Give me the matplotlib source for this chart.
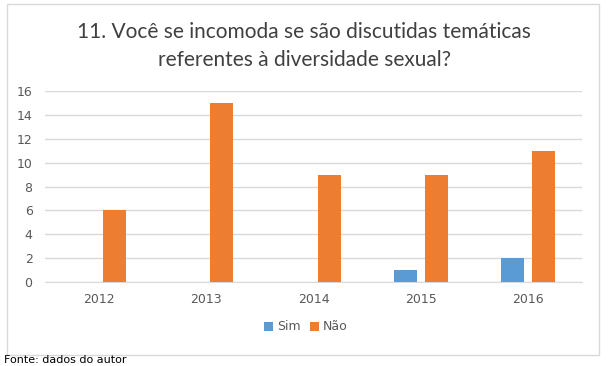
import matplotlib
matplotlib.use("Agg")
import matplotlib.pyplot as plt
import numpy as np
from matplotlib.patches import Rectangle

categories = ["2012", "2013", "2014", "2015", "2016"]
sim = [0, 0, 0, 1, 2]
nao = [6, 15, 9, 9, 11]
yticks = [0, 2, 4, 6, 8, 10, 12, 14, 16]
title = "11. Você se incomoda se são discutidas temáticas\nreferentes à diversidade sexual?"

W, H = 609, 366
fig = plt.figure(figsize=(W/100, H/100), dpi=100)
fig.patch.set_facecolor("white")

# chart border
fig.patches.append(Rectangle((7/W, 1-355/H), (599-7)/W, (355-4)/H, transform=fig.transFigure,
                             fill=False, edgecolor="#D9D9D9", linewidth=1.0))

ax = fig.add_axes([45/W, 1-282/H, (582-45)/W, (282-91)/H])
x = np.arange(len(categories))
bw = 0.215
off = 0.145
ax.bar(x - off, sim, bw, color="#5B9BD5", label="Sim", zorder=3)
ax.bar(x + off, nao, bw, color="#ED7D31", label="Não", zorder=3)
ax.set_xlim(-0.5, len(categories) - 0.5)
ax.set_ylim(0, 16)
ax.set_yticks(yticks)
ax.set_xticks(x)
ax.set_xticklabels(categories)
ax.yaxis.grid(True, color="#D9D9D9", linewidth=1.0, zorder=0)
for s in ["top", "right", "left"]:
    ax.spines[s].set_visible(False)
ax.spines["bottom"].set_color("#D9D9D9")
ax.tick_params(axis="both", length=0, colors="#595959", labelsize=9)
ax.tick_params(axis="x", pad=8)
ax.tick_params(axis="y", pad=9)

fig.text(304/W, 1-46/H, title, ha="center", va="center", fontsize=15, color="#404040",
         family="Lato", linespacing=1.45)

leg = fig.legend(loc="center", bbox_to_anchor=(306/W, 1-327/H), ncol=2, frameon=False,
                 fontsize=9, handlelength=0.7, handleheight=0.7, handletextpad=0.3,
                 columnspacing=0.8)
for t in leg.get_texts():
    t.set_color("#595959")

fig.text(4/W, 3/H, "Fonte: dados do autor", ha="left", va="baseline", fontsize=8, color="black")

fig.savefig("out.png", dpi=100)
